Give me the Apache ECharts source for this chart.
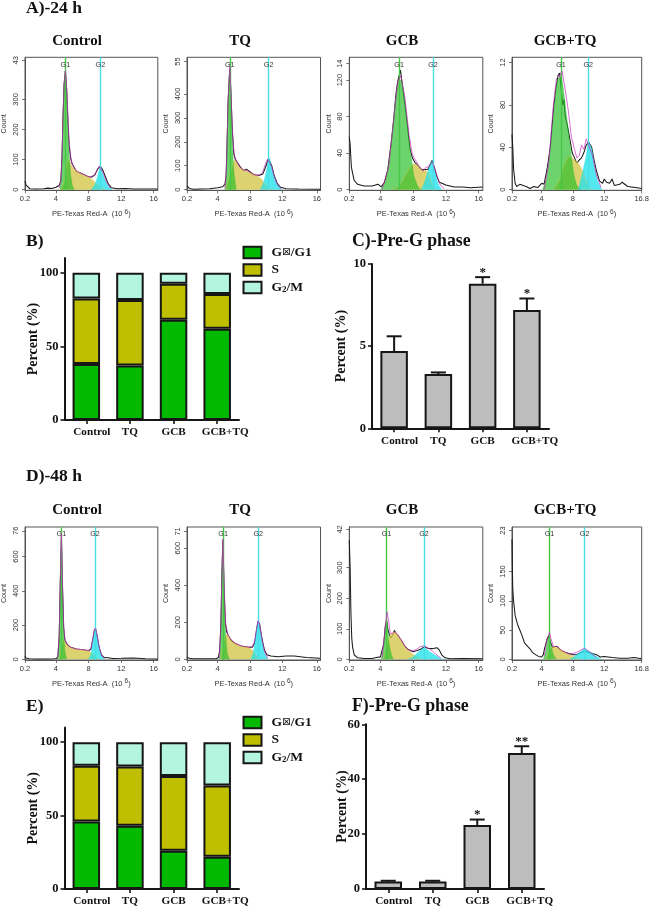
<!DOCTYPE html>
<html><head><meta charset="utf-8">
<style>html,body{margin:0;padding:0;background:#fff}#c{width:652px;height:907px}</style>
<script src="https://cdn.jsdelivr.net/npm/echarts@6/dist/echarts.min.js"></script>
</head><body><div id="c"></div>
<script>
// ---------- histogram data: [DNA content, count] ----------
const a1Total=[[.2,28],[.35,14],[.5,8],[.8,3],[1.5,2],[2.5,3],[3,5],[3.5,4],[4,8],[4.4,14],[4.6,30],[4.75,110],[4.85,230],[5,350],[5.15,395],[5.3,340],[5.45,240],[5.6,150],[5.8,105],[6,85],[6.5,60],[7,55],[7.6,48],[8,42],[8.4,42],[8.8,50],[9.1,68],[9.45,78],[9.7,68],[10,48],[10.4,20],[10.8,6],[11.5,3],[12.5,4],[13.5,2],[15,2],[16.5,2]];
const a1Model=[[4.4,5],[4.6,30],[4.75,110],[4.85,230],[5,350],[5.18,395],[5.35,320],[5.5,220],[5.65,150],[5.85,100],[6,85],[6.5,62],[7,55],[7.6,48],[8,43],[8.4,44],[8.7,48],[9,62],[9.3,78],[9.5,78],[9.8,55],[10.2,25],[10.7,5]];
const a1G1=[[4.5,0],[4.7,60],[4.85,220],[5,350],[5.15,395],[5.3,340],[5.45,230],[5.6,130],[5.8,50],[6.05,10],[6.3,0]];
const a1S=[[4.6,0],[5,25],[5.4,95],[5.55,100],[6,75],[7,55],[8,42],[8.5,32],[9,18],[9.5,6],[10,0]];
const a1G2=[[8.3,0],[8.7,12],[9.05,38],[9.45,75],[9.75,50],[10.05,30],[10.4,12],[10.9,0]];

const a2Total=[[.2,15],[.5,5],[1,2],[2,3],[3,4],[4,8],[4.6,12],[4.9,22],[5.05,60],[5.15,170],[5.3,370],[5.5,505],[5.65,400],[5.8,260],[6,150],[6.2,125],[6.4,120],[6.8,95],[7.2,80],[7.6,85],[8,75],[8.4,65],[8.8,60],[9.2,60],[9.6,65],[10,100],[10.3,130],[10.45,135],[10.7,100],[11,60],[11.4,25],[11.8,10],[12.5,4],[14,3],[16.7,2]];
const a2Model=[[4.9,5],[5.05,60],[5.15,170],[5.3,380],[5.52,515],[5.7,360],[5.85,230],[6.05,145],[6.4,115],[6.8,92],[7.2,82],[7.6,80],[8,72],[8.4,63],[8.8,60],[9.2,62],[9.6,75],[9.9,105],[10.2,128],[10.4,132],[10.7,95],[11,55],[11.4,20],[11.9,2]];
const a2G1=[[4.9,0],[5.05,40],[5.15,150],[5.3,360],[5.5,505],[5.65,400],[5.8,230],[6,80],[6.3,0]];
const a2S=[[5,0],[5.4,50],[5.9,110],[6.1,125],[6.8,90],[8,72],[8.8,60],[9.4,45],[9.8,25],[10.3,5],[10.7,0]];
const a2G2=[[9.3,0],[9.65,25],[10,72],[10.4,132],[10.7,92],[11,57],[11.4,22],[11.95,0]];

const a3Total=[[.2,58],[.3,50],[.45,25],[.6,18],[.8,10],[1.2,6],[2,4],[3,4],[3.7,6],[3.9,8],[4.1,3],[4.5,8],[4.9,22],[5.3,50],[5.6,75],[5.9,105],[6.1,118],[6.3,118],[6.45,131],[6.6,120],[7,92],[7.3,70],[7.6,45],[7.9,35],[8.2,30],[8.6,26],[9,22],[9.4,22],[9.8,22],[10,24],[10.3,32],[10.6,24],[10.9,14],[11.2,8],[11.5,7],[12,5],[13,3],[14,3],[15,2],[16.5,3]];
const a3Model=[[4.2,0],[5,25],[5.6,75],[6.1,118],[6.5,125],[7,100],[7.5,60],[7.9,38],[8.3,32],[8.7,26],[9.2,20],[9.5,24],[9.8,25],[10.1,28],[10.35,30],[10.8,18],[11.3,5],[11.8,1]];
const a3G1=[[4,0],[4.6,8],[5.2,40],[5.8,95],[6.2,118],[6.5,120],[6.9,105],[7.3,70],[7.7,40],[8.1,15],[8.6,3],[9,0]];
const a3S=[[5.3,0],[6.2,3],[7,15],[7.6,24],[8,28],[8.5,27],[9,22],[9.5,21],[9.9,18],[10.2,8],[10.7,0]];
const a3G2=[[9,0],[9.4,8],[9.8,20],[10.3,31],[10.7,18],[11.1,5],[11.5,0]];

const a4Total=[[.2,52],[.3,40],[.4,20],[.6,6],[.8,3],[1.2,5],[2,3],[2.5,1],[3,3],[3.5,2],[4,6],[4.3,5],[4.7,20],[5.1,40],[5.5,75],[5.8,95],[6.1,108],[6.3,110],[6.5,95],[6.7,80],[6.85,85],[7,70],[7.3,60],[7.6,48],[7.9,35],[8.2,30],[8.5,25],[8.8,28],[9.1,30],[9.4,35],[9.7,42],[10,45],[10.4,40],[10.7,28],[11,18],[11.4,8],[11.8,6],[12,10],[12.3,7],[12.7,6],[13,10],[13.3,4],[14,5],[14.3,7],[15,3],[16,2],[16.8,1]];
const a4Model=[[4.3,0],[4.9,25],[5.5,80],[5.9,105],[6.3,108],[6.6,112],[7,95],[7.4,75],[7.8,50],[8.2,38],[8.5,30],[8.8,32],[9.1,42],[9.4,38],[9.7,48],[10,42],[10.5,32],[11,14],[11.6,2]];
const a4G1=[[4.1,0],[4.6,10],[5.2,45],[5.7,85],[6.1,105],[6.5,105],[6.9,88],[7.3,62],[7.7,38],[8.1,15],[8.5,4],[9,0]];
const a4S=[[5.5,0],[6.2,8],[6.8,22],[7.3,30],[7.7,31],[8.2,28],[8.7,25],[9.2,18],[9.7,8],[10.3,0]];
const a4G2=[[8.7,0],[9.2,15],[9.7,32],[10,45],[10.4,38],[10.8,20],[11.2,7],[11.7,0]];

const d1Total=[[.2,20],[.3,8],[.7,4],[1.5,2],[3,2],[3.8,3],[4.1,5],[4.25,25],[4.4,130],[4.52,420],[4.67,715],[4.8,420],[4.95,180],[5.1,110],[5.4,85],[5.8,70],[6.5,60],[7.5,55],[8,50],[8.3,60],[8.5,110],[8.7,165],[8.85,180],[9,150],[9.3,70],[9.6,25],[9.9,12],[11,5],[12,6],[13.5,8],[15,3],[16.5,2]];
const d1Model=[[4.2,3],[4.4,140],[4.52,430],[4.66,730],[4.82,420],[4.95,190],[5.1,115],[5.4,85],[5.8,70],[6.5,60],[7.5,55],[8,52],[8.3,62],[8.5,115],[8.7,170],[8.85,182],[9,150],[9.3,70],[9.6,22],[10,3]];
const d1G1=[[4.15,0],[4.35,60],[4.5,380],[4.67,715],[4.8,420],[4.95,170],[5.1,50],[5.3,0]];
const d1S=[[4.4,0],[4.75,90],[4.95,115],[5.3,88],[5.8,70],[6.5,60],[7.5,55],[8,50],[8.4,35],[8.9,12],[9.3,0]];
const d1G2=[[8,0],[8.3,30],[8.5,100],[8.7,160],[8.85,178],[9,150],[9.3,70],[9.6,18],[10,0]];

const d2Total=[[.2,12],[.5,6],[1,3],[2,3],[3,3],[3.8,3],[4.1,10],[4.25,50],[4.4,180],[4.5,400],[4.64,640],[4.8,380],[4.95,200],[5.1,150],[5.3,130],[5.7,100],[6.2,85],[7,70],[7.8,65],[8.3,65],[8.6,90],[8.8,150],[9,205],[9.2,190],[9.5,110],[9.8,50],[10.1,25],[10.6,18],[11.5,14],[12.5,18],[13.5,18],[15,10],[16.7,6]];
const d2Model=[[4.2,5],[4.4,180],[4.5,400],[4.65,650],[4.85,340],[5,190],[5.3,130],[5.7,105],[6.2,85],[7,72],[7.8,66],[8.3,68],[8.6,100],[8.8,160],[9,208],[9.2,185],[9.5,105],[9.8,45],[10.2,5]];
const d2G1=[[4.2,0],[4.35,70],[4.5,400],[4.64,640],[4.8,380],[4.95,170],[5.2,30],[5.5,0]];
const d2S=[[4.4,0],[4.9,120],[5.2,135],[5.7,100],[6.2,85],[7,70],[7.8,65],[8.3,50],[8.7,25],[9.2,0]];
const d2G2=[[8.1,0],[8.4,30],[8.7,120],[9,205],[9.2,180],[9.5,100],[9.8,35],[10.2,0]];

const d3Total=[[.2,390],[.3,300],[.4,150],[.5,70],[.6,40],[.8,15],[1.2,5],[2,3],[3,3],[3.5,6],[4,8],[4.2,12],[4.4,50],[4.6,110],[4.75,128],[4.9,100],[5.1,80],[5.3,70],[5.5,80],[5.7,95],[5.9,85],[6.2,75],[6.6,60],[7,42],[7.4,32],[8,25],[8.4,28],[8.9,33],[9.3,40],[9.8,36],[10.3,35],[10.9,38],[11.2,30],[11.5,14],[11.9,5],[12.5,2],[14,3],[16.5,2]];
const d3Model=[[4.2,5],[4.5,80],[4.8,155],[5,125],[5.2,85],[5.5,85],[5.8,90],[6.2,78],[6.6,60],[7,42],[7.5,30],[8,28],[8.4,33],[8.9,42],[9.3,44],[9.8,38],[10.3,28],[10.9,14],[11.4,3]];
const d3G1=[[4.1,0],[4.4,40],[4.6,100],[4.75,128],[4.9,100],[5.1,45],[5.4,10],[5.6,0]];
const d3S=[[4.4,0],[5,70],[5.4,85],[5.8,90],[6.2,76],[6.6,60],[7,42],[7.5,28],[8,16],[8.5,7],[9,0]];
const d3G2=[[7.3,0],[7.9,5],[8.4,18],[8.9,30],[9.3,37],[9.8,30],[10.3,20],[10.9,10],[11.4,2],[11.8,0]];

const d4Total=[[.2,205],[.25,150],[.3,120],[.4,100],[.6,75],[.9,60],[1.2,50],[1.5,40],[1.8,28],[2.2,22],[2.5,18],[2.8,12],[3.2,8],[3.6,5],[4,4],[4.2,8],[4.4,20],[4.7,35],[4.9,40],[5.1,30],[5.4,20],[5.7,22],[6,22],[6.4,15],[7,12],[7.5,10],[8,8],[8.5,8],[9,12],[9.5,14],[10,12],[10.5,10],[11,8],[11.5,4],[12,5],[13,3],[14,2],[15,2],[15.8,3],[16.8,1]];
const d4Model=[[4.3,5],[4.7,35],[5,46],[5.2,35],[5.5,22],[6,22],[6.5,16],[7,12],[7.5,9],[8,10],[8.5,12],[9,16],[9.5,19],[10,14],[10.5,8],[11,3]];
const d4G1=[[4.2,0],[4.5,12],[4.8,35],[5,40],[5.2,25],[5.5,8],[5.9,0]];
const d4S=[[4.5,0],[5.1,18],[5.6,22],[6.2,18],[7,12],[7.6,8],[8.2,4],[8.8,0]];
const d4G2=[[7.6,0],[8.2,5],[8.8,11],[9.5,18],[10,14],[10.5,10],[11.1,4],[11.7,0]];

// gate positions
const gatesA=[[5.16,9.45],[5.5,10.32],[6.28,10.42],[6.47,9.95]];
const gatesD=[[4.66,8.8],[4.68,9.04],[4.74,9.32],[5,9.5]];
// y tick values and printed labels (top labels are truncated in the source)
const panelNames=['Control','TQ','GCB','GCB+TQ'];
const yTicks=[
 [[0,100,200,300,430],['0','100','200','300','43'],440],
 [[0,100,200,300,400,535],['0','100','200','300','400','55'],553],
 [[0,40,80,120,138],['0','40','80','120','14'],145],
 [[0,40,80,120],['0','40','80','12'],125],
 [[0,200,400,600,750],['0','200','400','600','76'],772],
 [[0,200,400,600,690],['0','200','400','600','71'],714],
 [[0,100,200,300,425],['0','100','200','300','42'],433],
 [[0,50,100,150,220],['0','50','100','150','23'],226]
];
const xEnds=[16.5,16.75,16.5,16.8];
const xTicks=[[.2,4,8,12,16],[.2,4,8,12,16.3],[.2,4,8,12,16],[.2,4,8,12,16.8]];
const xTickLabels=[['0.2','4','8','12','16'],['0.2','4','8','12','16'],['0.2','4','8','12','16'],['0.2','4','8','12','16.8']];

// ---------- bar chart data ----------
const categories=['Control','TQ','GCB','GCB+TQ'];
const phaseNames=['G\u22A0/G1','S','G2/M'];
const bG1=[38,37,68,62], bS=[44.5,44.5,24.5,23.5], bG2=[17.5,18.5,7.5,14.5];
const eG1=[46,43,26,22], eS=[38,40.5,51,48.5], eG2=[16,16.5,23,29.5];
const cMean=[4.7,3.3,8.8,7.2], cTop=[5.6,3.4,9.2,7.9], cSig=['','','*','*'];
const fMean=[2.7,2.7,23.3,49.5], fTop=[3,3,25.3,52], fSig=['','','*','**'];

// ---------- layout and styles ----------
const SERIF='"Liberation Serif","Times New Roman",serif', SANS='"Liberation Sans",Arial,sans-serif';
const INK='#161616';
const histData=[[a1Total,a1Model,a1G1,a1S,a1G2],[a2Total,a2Model,a2G1,a2S,a2G2],[a3Total,a3Model,a3G1,a3S,a3G2],[a4Total,a4Model,a4G1,a4S,a4G2],
 [d1Total,d1Model,d1G1,d1S,d1G2],[d2Total,d2Model,d2G1,d2S,d2G2],[d3Total,d3Model,d3G1,d3S,d3G2],[d4Total,d4Model,d4G1,d4S,d4G2]];
const lefts=[24.3,187,349.3,512], boxW=133.5, tops=[57.3,527], boxH=133;
const grids=[],xAxes=[],yAxes=[],series=[],titles=[];

function heading(text,x,y,size,center){
  titles.push({text,left:x,top:y,textAlign:center?'center':'left',textVerticalAlign:'middle',padding:0,
    textStyle:{fontFamily:SERIF,fontWeight:'bold',fontSize:size,color:'#111'}});
}
heading('A)-24 h',26,8,17.5);heading('D)-48 h',26,476,17.5);
heading('B)',26,241.5,17.5);heading('C)-Pre-G phase',352,241.5,17.8);
heading('E)',26,706.5,17.5);heading('F)-Pre-G phase',352,706.5,17.8);

function fill(data,color,g){
  return {type:'line',data,xAxisIndex:g,yAxisIndex:g,symbol:'none',smooth:0.2,silent:true,
    lineStyle:{width:0.5,color},areaStyle:{color,opacity:1},z:3};
}
histData.forEach((set,i)=>{
  const col=i%4,row=i<4?0:1,g=grids.length,[total,model,g1,s,g2]=set,[ticks,labs,yMax]=yTicks[i];
  const gates=(row?gatesD:gatesA)[col];
  grids.push({left:lefts[col],top:tops[row],width:boxW,height:boxH,show:true,borderColor:'#555',borderWidth:1,backgroundColor:'#fff',containLabel:false});
  heading(panelNames[col],[77,240,402,565][col],row?510:40.7,15,true);
  xAxes.push({type:'value',gridIndex:g,min:.2,max:xEnds[col],splitLine:{show:false},
    axisLine:{show:true,onZero:false,lineStyle:{color:'#555',width:1}},
    axisTick:{show:true,length:3,lineStyle:{color:'#555',width:.8},customValues:xTicks[col]},
    axisLabel:{customValues:xTicks[col],margin:5,fontFamily:SANS,fontSize:7.5,color:'#333',hideOverlap:false,showMinLabel:true,showMaxLabel:true,
      formatter:v=>xTickLabels[col][xTicks[col].indexOf(v)]},
    name:'PE-Texas Red-A  (10 {u|6})',nameLocation:'middle',nameGap:18,
    nameTextStyle:{fontFamily:SANS,fontSize:7.5,color:'#333',rich:{u:{fontFamily:SANS,fontSize:6.5,color:'#333',padding:[0,0,5,0]}}}});
  yAxes.push({type:'value',gridIndex:g,min:-yMax*0.005,max:yMax,splitLine:{show:false},
    axisLine:{show:true,onZero:false,lineStyle:{color:'#555',width:1}},
    axisTick:{show:true,length:3,lineStyle:{color:'#555',width:.8},customValues:ticks},
    axisLabel:{customValues:ticks,rotate:90,margin:5,fontFamily:SANS,fontSize:7.5,color:'#333',hideOverlap:false,showMinLabel:true,showMaxLabel:true,
      formatter:v=>labs[ticks.indexOf(v)]},
    name:'Count',nameLocation:'middle',nameGap:17,nameRotate:90,nameTextStyle:{fontFamily:SANS,fontSize:7.2,color:'#333'}});
  series.push(
    {type:'line',data:total,xAxisIndex:g,yAxisIndex:g,symbol:'none',silent:true,lineStyle:{color:'#1a1a1a',width:1.05},z:2},
    fill(s,'rgba(214,200,80,0.82)',g),
    fill(g1,'rgba(40,190,40,0.68)',g),
    fill(g2,'rgba(40,225,235,0.8)',g),
    {type:'line',data:[],xAxisIndex:g,yAxisIndex:g,silent:true,z:4,
      markLine:{silent:true,symbol:'none',animation:false,
        label:{show:true,position:'end',distance:-11,rotate:0,fontFamily:SANS,fontSize:7.2,color:'#333'},
        data:[{xAxis:gates[0],lineStyle:{color:'#45c845',width:1.4,type:'solid'},label:{formatter:'G1'}},
              {xAxis:gates[1],lineStyle:{color:'#45e0e6',width:1.4,type:'solid'},label:{formatter:'G2'}}]}},
    {type:'line',data:model,xAxisIndex:g,yAxisIndex:g,symbol:'none',silent:true,lineStyle:{color:'#c828c0',width:.8,opacity:.85},z:5}
  );
});

// the printed category labels sit right of their ticks for the two long names
const catRich={base:{fontFamily:SERIF,fontWeight:'bold',fontSize:11.2,color:'#111'}};
catRich.a={...catRich.base,padding:[0,0,0,11]};
catRich.d={...catRich.base,padding:[0,0,0,16]};
function barAxes(g,yMax,ticks,gap){
  xAxes.push({type:'category',gridIndex:g,data:categories,
    axisLine:{show:true,lineStyle:{color:INK,width:2}},
    axisTick:{show:true,alignWithLabel:true,length:4,lineStyle:{color:INK,width:1.6}},
    axisLabel:{interval:0,margin:7,fontFamily:SERIF,fontWeight:'bold',fontSize:11.2,color:'#111',rich:catRich,
      formatter:(v,k)=>k===0?'{a|'+v+'}':k===3?'{d|'+v+'}':'{base|'+v+'}'}});
  yAxes.push({type:'value',gridIndex:g,min:0,max:yMax,splitLine:{show:false},
    axisLine:{show:true,lineStyle:{color:INK,width:2}},
    axisTick:{show:true,length:4,lineStyle:{color:INK,width:1.6},customValues:ticks},
    axisLabel:{customValues:ticks,margin:6,fontFamily:SERIF,fontWeight:'bold',fontSize:12.5,color:'#111'},
    name:'Percent (%)',nameLocation:'middle',nameGap:gap,nameRotate:90,nameMoveOverlap:false,
    nameTextStyle:{fontFamily:SERIF,fontWeight:'bold',fontSize:14,color:'#111'}});
}
function stacked(left,top,h,vals){
  const g=grids.length;
  grids.push({left,top,width:174.5,height:h,containLabel:false});
  barAxes(g,110,[0,50,100],24);
  const cols=['#00B900','#BFBF00','#B4F5DF'];
  vals.forEach((v,k)=>series.push({type:'bar',name:phaseNames[k],stack:'p'+g,data:v,xAxisIndex:g,yAxisIndex:g,barWidth:27.5,silent:true,
    itemStyle:{color:cols[k],borderColor:INK,borderWidth:2}}));
}
function errBars(left,top,w,h,yMax,ticks,mean,hi,sig,gap){
  const g=grids.length;
  grids.push({left,top,width:w,height:h,containLabel:false});
  barAxes(g,yMax,ticks,gap);
  series.push({type:'bar',data:mean,xAxisIndex:g,yAxisIndex:g,barWidth:27.5,silent:true,
    itemStyle:{color:'#BDBDBD',borderColor:INK,borderWidth:2}});
  series.push({type:'custom',xAxisIndex:g,yAxisIndex:g,silent:true,z:3,
    data:mean.map((m,k)=>[k,m,hi[k]]),encode:{x:0,y:[1,2]},
    renderItem(params,api){
      const a=api.coord([api.value(0),api.value(1)]),b=api.coord([api.value(0),api.value(2)]);
      const st={stroke:INK,lineWidth:2};
      const kids=[{type:'line',shape:{x1:a[0],y1:a[1],x2:b[0],y2:b[1]},style:st},
        {type:'line',shape:{x1:b[0]-7.5,y1:b[1],x2:b[0]+7.5,y2:b[1]},style:st}];
      const t=sig[params.dataIndex];
      if(t)kids.push({type:'text',style:{text:t,x:b[0],y:b[1]-5,textAlign:'center',textVerticalAlign:'middle',fontFamily:SERIF,fontWeight:'bold',fontSize:13,fill:'#111'}});
      return {type:'group',children:kids};
    }});
}
stacked(64.5,258,162,[bG1,bS,bG2]);
errBars(372,264,177,164.3,10,[0,5,10],cMean,cTop,cSig,24);
stacked(64.5,727.5,162,[eG1,eS,eG2]);
errBars(366,724.3,178,165,60,[0,20,40,60],fMean,fTop,fSig,17);

const richLegend={
  t:{fontFamily:SERIF,fontWeight:'bold',fontSize:13.5,color:'#111',lineHeight:15},
  b:{fontFamily:'"DejaVu Sans"',fontWeight:'normal',fontSize:10.5,color:'#111',lineHeight:15},
  s:{fontFamily:SERIF,fontWeight:'bold',fontSize:9,color:'#111',lineHeight:15,padding:[4,0,0,0]}
};
const legendText={[phaseNames[0]]:'{t|G}{b|\u22A0}{t|/G1}',[phaseNames[1]]:'{t|S}',[phaseNames[2]]:'{t|G}{s|2}{t|/M}'};
const legends=[245.5,715.5].map(top=>({left:242.5,top,orient:'vertical',selectedMode:false,padding:0,icon:'rect',
  itemWidth:18,itemHeight:11.5,itemGap:3.5,data:phaseNames,
  formatter:n=>legendText[n],
  textStyle:{fontFamily:SERIF,fontWeight:'bold',fontSize:13.5,color:'#111',padding:[0,0,0,5],rich:richLegend}}));

const chart=echarts.init(document.getElementById('c'),null,{renderer:'canvas',width:652,height:907});
chart.setOption({animation:false,backgroundColor:'#fff',title:titles,legend:legends,grid:grids,xAxis:xAxes,yAxis:yAxes,series});
</script></body></html>
